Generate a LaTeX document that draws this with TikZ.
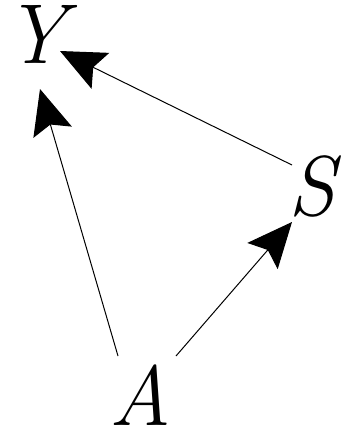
\documentclass[tikz,border=0pt]{standalone}
\usepackage{fontspec}
\usetikzlibrary{arrows.meta,calc}
\tikzset{
  var/.style={inner sep=0pt,font=\fontsize{85}{85}\selectfont\itshape},
  arr/.style={line width=1pt,-{Stealth[length=45pt,width=40pt,inset=8pt]}}
}
\begin{document}
\begin{tikzpicture}[x=1pt,y=-1pt]
\useasboundingbox (0,0) rectangle (341,432);
\node[var] (Y) at (35,34) {Y};
\node[var] (S) at (312,186) {S};
\node[var] (A) at (140,395) {A};
\draw[arr] ($(A)+(-22,-39)$) -- ($(Y)+(5,55)$);
\draw[arr] ($(A)+(36,-39)$) -- ($(S)+(-20,36)$);
\draw[arr] ($(S)+(-20,-21)$) -- ($(Y)+(25,17)$);
\end{tikzpicture}
\end{document}
